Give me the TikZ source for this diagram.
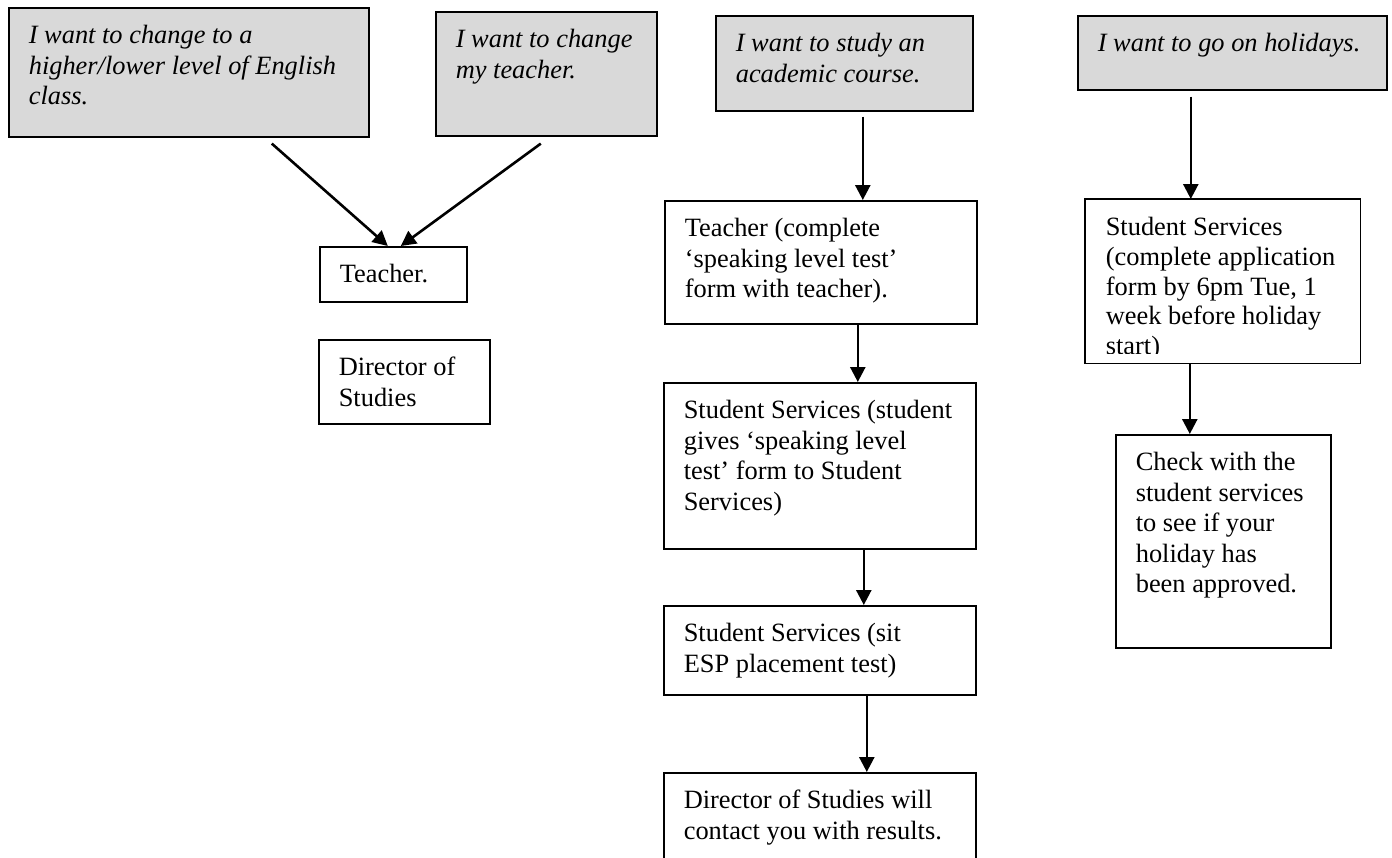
\documentclass[tikz,border=0pt]{standalone}
\usepackage{fontspec}
\setmainfont{Liberation Serif}
\usetikzlibrary{arrows.meta}

\begin{document}
\begin{tikzpicture}[x=1pt, y=-1pt, ->, >={Triangle[length=15pt,width=15pt]}, line width=2.6pt,
	flowbox/.style={draw, line width=1.6pt, anchor=north west, align=flush left, inner xsep=20pt, inner ysep=18pt, text height=18pt, font=\fontsize{26.4}{30.5}\selectfont},
	wantbox/.style={flowbox, fill=black!15, font=\fontsize{26.4}{30.5}\selectfont\itshape}]
	\path[use as bounding box, clip] (0,0) rectangle (1392,857);
	% wishes
	\node[wantbox, text width=320pt, text depth=75pt] (change_level) at (8,7) {I want to change to a\\ higher/lower level of English\\ class.};
	\node[wantbox, text width=181pt, text depth=70pt] (change_teacher) at (435,11) {I want to change\\ my teacher.};
	\node[wantbox, text width=217pt, text depth=41pt] (study_course) at (715,15) {I want to study an\\ academic course.};
	\node[wantbox, text width=269pt, text depth=20pt] (go_holiday) at (1077,15) {I want to go on holidays.};
	% where to go
	\node[flowbox, text width=107pt, text depth=1pt] (teacher) at (319,246) {Teacher.};
	\node[flowbox, text width=131pt, text depth=30pt] (director) at (318,339) {Director of\\ Studies};
	\node[flowbox, text width=272pt, text depth=69pt] (teacher_form) at (664,200) {Teacher (complete\\ `speaking level test'\\ form with teacher).};
	\node[flowbox, text width=272pt, text depth=112pt] (services_form) at (663,382) {Student Services (student\\ gives `speaking level\\ test' form to Student\\ Services)};
	\node[flowbox, text width=272pt, text depth=35pt] (services_test) at (663,605) {Student Services (sit\\ ESP placement test)};
	\node[flowbox, text width=272pt, text depth=56pt] (director_results) at (663,772) {Director of Studies will\\ contact you with results.};
	\begin{scope}
		\clip (1080,190) rectangle (1365,353);
		\node[flowbox, draw=none, text width=234pt, text depth=109pt, font=\fontsize{26.4}{29.6}\selectfont] (services_holiday) at (1085,199) {Student Services\\ (complete application\\ form by 6pm Tue, 1\\ week before holiday\\ start)};
	\end{scope}
	\draw[-, line width=1.6pt] (services_holiday.north west) rectangle (services_holiday.south east);
	\node[flowbox, text width=175pt, text depth=159pt] (check_services) at (1115,434) {Check with the\\ student services\\ to see if your\\ holiday has\\ been approved.};
	\path 	([xshift=83pt, yshift=-6pt]change_level.south) edge ([xshift=-5.5pt]teacher.north)
			([xshift=-5.5pt, yshift=-7pt]change_teacher.south) edge ([xshift=7.5pt]teacher.north)
			([xshift=18.5pt, yshift=-5pt]study_course.south) edge ([xshift=42pt]teacher_form.north)
			([xshift=37pt]teacher_form.south) edge ([xshift=38pt]services_form.north)
			([xshift=44pt]services_form.south) edge ([xshift=44pt]services_test.north)
			([xshift=47pt]services_test.south) edge ([xshift=47pt]director_results.north)
			([xshift=-41.5pt, yshift=-6pt]go_holiday.south) edge ([xshift=-32pt]services_holiday.north)
			([xshift=-33pt]services_holiday.south) edge ([xshift=-33.5pt]check_services.north);
\end{tikzpicture}
\end{document}
